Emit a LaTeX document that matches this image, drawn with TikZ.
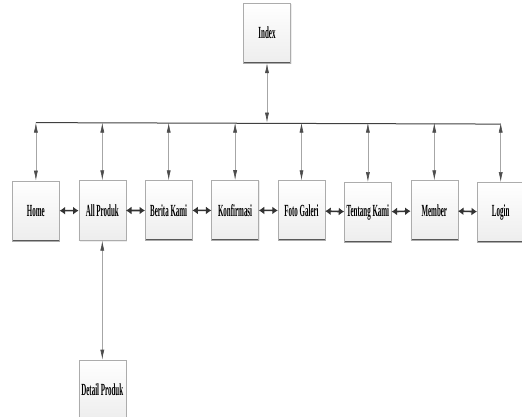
\documentclass[tikz,border=0pt]{standalone}
\usepackage{fontspec}
\newfontfamily\pagefont[FakeStretch=0.41]{Liberation Serif}
\usetikzlibrary{matrix,arrows.meta,positioning,shadows}

\tikzset{
  page/.style={rectangle, draw=gray!65, top color=white, bottom color=gray!14,
    minimum width=47pt, minimum height=60pt, inner sep=0pt,
    drop shadow={opacity=0.15, shadow xshift=1pt, shadow yshift=-1pt},
    path picture={\draw[line width=2pt, black!65]
      (path picture bounding box.south west) -- (path picture bounding box.south east);},
    font=\pagefont\bfseries\fontsize{17}{17}\selectfont},
  uplink/.style={gray!70, line width=0.6pt,
    {Latex[length=10pt,width=4pt,color=black!70]}-{Latex[length=10pt,width=4pt,color=black!70]}},
  sidelink/.style={black!80, line width=1.6pt,
    {Latex[length=5.5pt,width=8pt]}-{Latex[length=5.5pt,width=8pt]}},
  bus/.style={black!75, line width=1pt}
}

\begin{document}
\begin{tikzpicture}[x=1pt, y=-1pt]
  \useasboundingbox (0,0) rectangle (522,417);

  \node[page] (index) at (267,33) {Index};

  \matrix (m) [matrix of nodes, nodes={page}, inner sep=0pt, column sep=19pt, anchor=north west] at (12,180)
  {
Home & All Produk & Berita Kami & Konfirmasi & Foto Galeri & Tentang Kami & Member & Login \\
};

  \node[page, below=119pt of m-1-2] (detail) {Detail Produk};

  % bus line under Index
  \path (m-1-1.north) ++(0,-58) coordinate (busL);
  \path (m-1-8.north) ++(0,-58) coordinate (busR);
  \draw[bus] (busL) -- (busR);

  \draw[uplink] (index.south) -- (index |- busL);
  \foreach \c in {1,...,8}
    \draw[uplink] (m-1-\c.north |- busL) -- (m-1-\c.north);

  \path[sidelink]
  (m-1-1) edge (m-1-2)
  (m-1-2) edge (m-1-3)
  (m-1-3) edge (m-1-4)
  (m-1-4) edge (m-1-5)
  (m-1-5) edge (m-1-6)
  (m-1-6) edge (m-1-7)
  (m-1-7) edge (m-1-8)
  ;

  \draw[uplink] (m-1-2.south) -- (detail.north);
\end{tikzpicture}
\end{document}
